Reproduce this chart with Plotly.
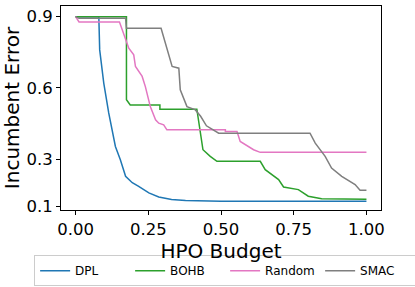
import plotly.graph_objects as go

dpl_x = [0, 0.08, 0.083, 0.097, 0.114, 0.126, 0.137, 0.154, 0.172, 0.195, 0.217, 0.252, 0.286, 0.33, 0.378, 0.5, 1.0]
dpl_y = [0.9, 0.9, 0.76, 0.62, 0.494, 0.423, 0.353, 0.297, 0.227, 0.2, 0.185, 0.157, 0.14, 0.129, 0.125, 0.122, 0.122]

bohb_x = [0, 0.175, 0.175, 0.188, 0.29, 0.29, 0.417, 0.425, 0.438, 0.463, 0.486, 0.635, 0.652, 0.698, 0.715, 0.766, 0.8, 0.846, 1.0]
bohb_y = [0.9, 0.9, 0.55, 0.528, 0.528, 0.51, 0.51, 0.45, 0.339, 0.311, 0.29, 0.29, 0.255, 0.213, 0.182, 0.171, 0.143, 0.132, 0.13]

rand_x = [0, 0.012, 0.151, 0.175, 0.183, 0.2, 0.206, 0.229, 0.24, 0.257, 0.275, 0.286, 0.303, 0.314, 0.515, 0.515, 0.555, 0.566, 0.595, 0.612, 0.635, 1.0]
rand_y = [0.9, 0.878, 0.878, 0.8, 0.767, 0.739, 0.69, 0.648, 0.605, 0.521, 0.465, 0.451, 0.444, 0.423, 0.423, 0.416, 0.416, 0.374, 0.353, 0.339, 0.328, 0.328]

smac_x = [0, 0.012, 0.172, 0.175, 0.294, 0.309, 0.32, 0.332, 0.355, 0.36, 0.383, 0.412, 0.43, 0.45, 0.492, 0.806, 0.824, 0.858, 0.88, 0.915, 0.961, 0.978, 1.0]
smac_y = [0.9, 0.893, 0.893, 0.851, 0.851, 0.788, 0.75, 0.69, 0.683, 0.592, 0.521, 0.507, 0.48, 0.44, 0.409, 0.409, 0.367, 0.311, 0.262, 0.227, 0.192, 0.168, 0.168]

y_ticks = [0.1, 0.3, 0.6, 0.9]
x_ticks = [0.0, 0.25, 0.5, 0.75, 1.0]
x_labels = ["0.00", "0.25", "0.50", "0.75", "1.00"]

series = [
    ("DPL", dpl_x, dpl_y, "#1f77b4"),
    ("BOHB", bohb_x, bohb_y, "#2ca02c"),
    ("Random", rand_x, rand_y, "#e377c2"),
    ("SMAC", smac_x, smac_y, "#7f7f7f"),
]

fig = go.Figure()
for name, xs, ys, c in series:
    fig.add_trace(go.Scatter(x=xs, y=ys, name=name, mode="lines",
                             line=dict(color=c, width=1.5)))

fig.update_layout(
    width=415, height=287,
    margin=dict(l=61, r=34, t=6, b=77, autoexpand=False),
    plot_bgcolor="white", paper_bgcolor="white",
    font=dict(family="DejaVu Sans", color="black"),
    showlegend=True,
    legend=dict(orientation="h", x=-0.084, xanchor="left", y=-0.222, yanchor="top",
                bordercolor="#cccccc", borderwidth=1, font=dict(size=12),
                entrywidth=50, tracegroupgap=0),
)
fig.update_xaxes(range=[-0.05, 1.05], tickvals=x_ticks, ticktext=x_labels,
                 showline=True, linecolor="black", linewidth=1, mirror=True,
                 ticks="outside", ticklen=4, tickcolor="black", showgrid=False,
                 zeroline=False, tickfont=dict(size=16.5),
                 title=dict(text="HPO Budget", font=dict(size=20), standoff=0))
fig.update_yaxes(range=[0.085, 0.945], tickvals=y_ticks,
                 showline=True, linecolor="black", linewidth=1, mirror=True,
                 ticks="outside", ticklen=4, tickcolor="black", showgrid=False,
                 zeroline=False, tickfont=dict(size=16.5),
                 title=dict(text="Incumbent Error", font=dict(size=20), standoff=2))

fig.write_html("out.html", post_script="document.body.style.margin='0';",
               config={"displayModeBar": False})
